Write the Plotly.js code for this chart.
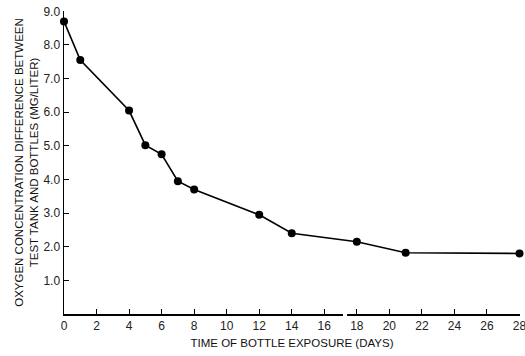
<!DOCTYPE html>
<html><head><meta charset="utf-8">
<script src="https://cdn.plot.ly/plotly-3.0.1.min.js"></script>
<style>html,body{margin:0;padding:0;background:#fff;}#chart{width:525px;height:356px;}</style>
</head><body><div id="chart"></div>
<script>
const days = [0, 1, 4, 5, 6, 7, 8, 12, 14, 18, 21, 28];
const oxygenDiff = [8.7, 7.55, 6.05, 5.02, 4.75, 3.95, 3.7, 2.95, 2.4, 2.15, 1.82, 1.8];
const xTickVals = [0, 2, 4, 6, 8, 10, 12, 14, 16, 18, 20, 22, 24, 26, 28];
const yTickVals = [1, 2, 3, 4, 5, 6, 7, 8, 9];
const yTickText = ["1.0", "2.0", "3.0", "4.0", "5.0", "6.0", "7.0", "8.0", "9.0"];
const axisBreak = [17.15, 17.4];

const fontFam = "Liberation Sans, Arial, sans-serif";
const trace = {
  x: days, y: oxygenDiff, mode: "lines+markers", type: "scatter",
  line: {color: "#000", width: 1.6},
  marker: {color: "#000", size: 8},
  hoverinfo: "skip", showlegend: false, cliponaxis: false
};
const layout = {
  width: 525, height: 356,
  margin: {l: 64, r: 5, t: 11, b: 42},
  paper_bgcolor: "#fff", plot_bgcolor: "#fff",
  font: {family: fontFam, size: 11, color: "#111"},
  xaxis: {
    range: [0, 28.03], tickvals: xTickVals, ticktext: xTickVals.map(String),
    ticklabeloverflow: "allow",
    showgrid: false, zeroline: false, showline: true, linecolor: "#000", linewidth: 1.5,
    ticks: "inside", ticklen: 5, tickcolor: "#000", tickwidth: 1,
    tickfont: {size: 12, family: fontFam, color: "#222"},
    title: {text: "TIME OF BOTTLE EXPOSURE (DAYS)", font: {size: 11.5, family: fontFam, color: "#111"}, standoff: 7}
  },
  yaxis: {
    range: [0, 9.01], tickvals: yTickVals, ticktext: yTickText,
    showgrid: false, zeroline: false, showline: true, linecolor: "#000", linewidth: 1.5,
    ticks: "inside", ticklen: 5, tickcolor: "#000", tickwidth: 1,
    tickfont: {size: 12, family: fontFam, color: "#222"},
    title: {text: "OXYGEN CONCENTRATION DIFFERENCE BETWEEN<br>TEST TANK AND BOTTLES (MG/LITER)", font: {size: 11.5, family: fontFam, color: "#111"}, standoff: 2}
  },
  shapes: [{
    type: "rect", xref: "x", yref: "paper",
    x0: axisBreak[0], x1: axisBreak[1], y0: -0.02, y1: 0.02,
    fillcolor: "#fff", line: {width: 0}, layer: "above"
  }]
};
Plotly.newPlot("chart", [trace], layout, {staticPlot: true, displayModeBar: false});
</script></body></html>
